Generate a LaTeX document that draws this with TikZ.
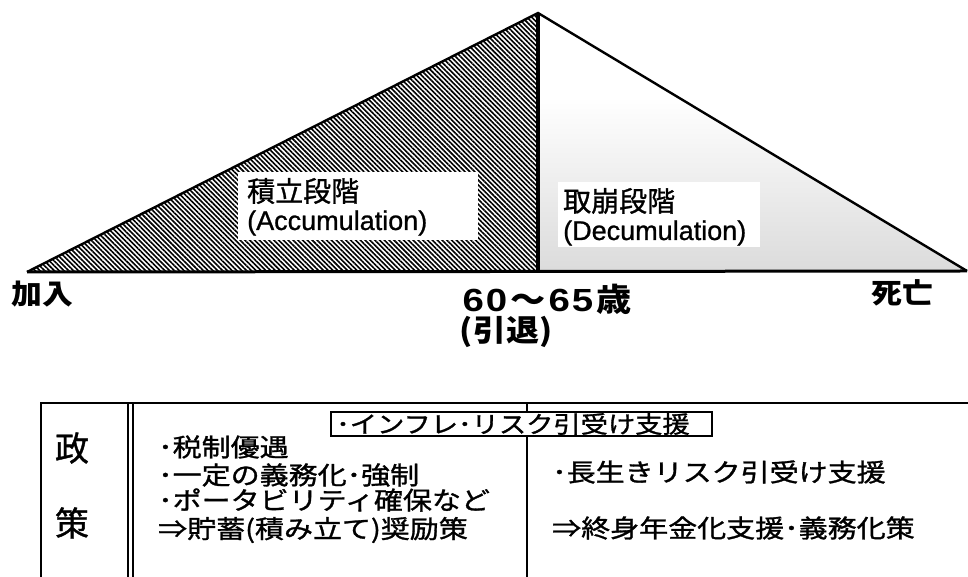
\documentclass[tikz,border=0pt]{standalone}
\usepackage{fontspec}
\usetikzlibrary{patterns.meta,fadings}
\newfontfamily\jpA{Noto Sans CJK JP}[FakeBold=1.0]
\newfontfamily\jpS{Noto Sans CJK JP}[FakeStretch=1.16,FakeBold=1.2]
\newfontfamily\jpL{Noto Sans CJK JP}[FakeStretch=1.1]
\newfontfamily\latA{Liberation Sans}[FakeBold=0.9]
\newfontfamily\latL{Liberation Sans}[FakeStretch=1.2]
\begin{document}
\begin{tikzpicture}[x=1pt,y=1pt,
  tri/.style={draw=black,line width=2.4pt,line join=miter},
  lbox/.style={fill=white,draw=none},
  jpbig/.style={inner sep=0pt,anchor=west,font=\jpA\fontsize{28}{30}\selectfont},
  latbig/.style={inner sep=0pt,anchor=west,font=\latA\fontsize{27}{30}\selectfont},
  axislbl/.style={inner sep=0pt,font=\jpL\bfseries\fontsize{28}{30}\selectfont},
  tbltxt/.style={inner sep=0pt,anchor=west,font=\jpS\fontsize{25}{27}\selectfont},
  tblhead/.style={inner sep=0pt,font=\jpA\fontsize{34}{36}\selectfont},
  tline/.style={draw=black,line width=1.8pt}]
\useasboundingbox (0,0) rectangle (968,577);
% triangle geometry
\coordinate (L) at (27,305);
\coordinate (T) at (538,564);
\coordinate (R) at (967,306);
\coordinate (B) at (538,305);
% accumulation (hatched)
\fill[pattern={Lines[angle=-45,distance=3.4pt,line width=1.6pt]}] (L) -- (T) -- (B) -- cycle;
% decumulation (light stipple)
\begin{scope}
\clip (T) -- (R) -- (B) -- cycle;
\fill[gray!28,path fading=north] (538,305) rectangle (968,480);
\end{scope}
\draw[tri] (L) -- (T) -- (R);
\draw[black,line width=3pt] (L) -- (R);
\draw[black,line width=3.6pt] (T) -- (B);
% stage boxes
\fill[lbox] (238,337) rectangle (478,405);
\node[jpbig] (acc1) at (247,386) {積立段階};
\node[latbig] (acc2) at (247,354) {(Accumulation)};
\fill[lbox] (558,330) rectangle (760,395);
\node[jpbig] (dec1) at (563,376) {取崩段階};
\node[latbig] (dec2) at (563,344) {(Decumulation)};
% axis labels
\node[axislbl] (join) at (42,282.5) {加入};
\node[axislbl] (death) at (902,284.5) {死亡};
\node[inner sep=0pt] (age) at (547,278) {\latL\bfseries\fontsize{32}{34}\selectfont 6\kern2pt0\kern3pt{\jpL\bfseries 〜}\kern3pt6\kern2pt5\kern3pt{\jpL\bfseries 歳}};
\node[axislbl,font=\jpL\bfseries\fontsize{30}{32}\selectfont] (ret) at (506,245) {(引退)};
% table
\draw[tline] (41,0) -- (41,174) -- (968,174);
\draw[tline] (128,0) -- (128,174);
\draw[tline] (133,0) -- (133,174);
\draw[tline] (527,0) -- (527,174);
\node[tblhead] (h1) at (72,129) {政};
\node[tblhead] (h2) at (72,54) {策};
\node[tbltxt] (l1) at (158,130) {･税制優遇};
\node[tbltxt] (l2) at (158,102) {･一定の義務化･強制};
\node[tbltxt] (l3) at (158,77) {･ポータビリティ確保など};
\node[tbltxt] (l4) at (158,47) {⇒貯蓄(積み立て)奨励策};
\node[tbltxt] (r1) at (552,105) {･長生きリスク引受け支援};
\node[tbltxt] (r2) at (552,49) {⇒終身年金化支援･義務化策};
\filldraw[fill=white,draw=black,line width=1.6pt] (331,141) rectangle (712,165);
\node[tbltxt,font=\jpS\fontsize{23.5}{25}\selectfont] (infl) at (336,153) {･インフレ･リスク引受け支援};
\end{tikzpicture}
\end{document}
